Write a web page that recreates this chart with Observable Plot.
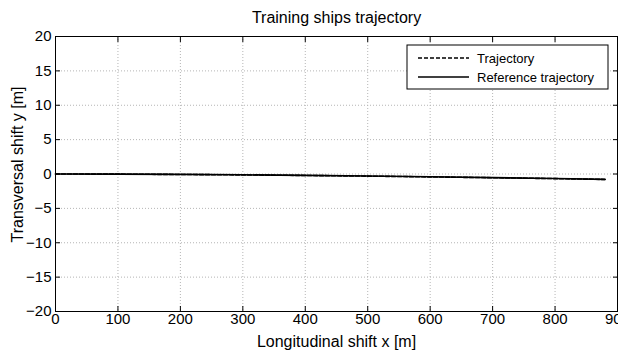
<!DOCTYPE html>
<html>
<head>
<meta charset="utf-8">
<script src="https://cdn.jsdelivr.net/npm/d3@7"></script>
<script src="https://cdn.jsdelivr.net/npm/@observablehq/plot@0.6"></script>
<style>
  html, body { margin: 0; padding: 0; background: #fff; }
  #chart svg { display: block; }
</style>
</head>
<body>
<div id="chart"></div>
<script>
// Longitudinal positions along the run [m]
const xPos = [0, 100, 200, 300, 400, 500, 600, 700, 800, 880];
// Planned (reference) lateral offset [m]
const refY = [0, -0.02, -0.06, -0.12, -0.2, -0.3, -0.41, -0.53, -0.66, -0.78];
// Sailed trajectory lateral offset [m]
const trajY = [0, -0.02, -0.07, -0.13, -0.21, -0.31, -0.42, -0.54, -0.67, -0.79];

const xTicks = [0, 100, 200, 300, 400, 500, 600, 700, 800, 900];
const yTicks = [-20, -15, -10, -5, 0, 5, 10, 15, 20];
const seriesNames = ["Trajectory", "Reference trajectory"];

const refData = xPos.map((x, i) => ({x, y: refY[i]}));
const trajData = xPos.map((x, i) => ({x, y: trajY[i]}));

const font = "Arial, 'Liberation Sans', Helvetica, sans-serif";
const gridInner = xTicks.slice(1, -1);
const gridInnerY = yTicks.slice(1, -1);

const chart = Plot.plot({
  width: 618,
  height: 351,
  marginLeft: 55,
  marginRight: 1,
  marginTop: 36,
  marginBottom: 40,
  style: {fontFamily: font, fontSize: "15px", color: "#000", background: "#fff"},
  x: {domain: [0, 900], ticks: xTicks},
  y: {domain: [-20, 20], ticks: yTicks},
  marks: [
    // dotted grid
    Plot.ruleX(gridInner, {stroke: "#b5b5b5", strokeWidth: 1, strokeDasharray: "1,2"}),
    Plot.ruleY(gridInnerY, {stroke: "#b5b5b5", strokeWidth: 1, strokeDasharray: "1,2"}),
    // tick labels
    Plot.axisX({ticks: xTicks, tickSize: 0, tickPadding: 2, fontSize: 15, label: null}),
    Plot.axisY({ticks: yTicks, tickSize: 0, tickPadding: 4, fontSize: 15, label: null}),
    // inward tick marks on all four sides
    Plot.axisX({ticks: xTicks, anchor: "bottom", tickSize: -5, label: null, text: null}),
    Plot.axisX({ticks: xTicks, anchor: "top", tickSize: -5, label: null, text: null}),
    Plot.axisY({ticks: yTicks, anchor: "left", tickSize: -5, label: null, text: null}),
    Plot.axisY({ticks: yTicks, anchor: "right", tickSize: -5, label: null, text: null}),
    // trajectories
    Plot.line(refData, {x: "x", y: "y", stroke: "#000", strokeWidth: 1.6}),
    Plot.line(trajData, {x: "x", y: "y", stroke: "#000", strokeWidth: 1.6, strokeDasharray: "4,2"}),
    Plot.frame({stroke: "#000", strokeWidth: 1}),
    // title and axis labels
    Plot.text(["Training ships trajectory"], {frameAnchor: "top", dy: -19, fontSize: 16, lineAnchor: "middle"}),
    Plot.text(["Longitudinal shift x [m]"], {frameAnchor: "bottom", dy: 30, fontSize: 16, lineAnchor: "middle"}),
    Plot.text(["Transversal shift y [m]"], {frameAnchor: "left", dx: -38, dy: -9.5, rotate: -90, fontSize: 16, lineAnchor: "middle", textAnchor: "middle"})
  ]
});

// legend box in the upper-right corner of the axes
const svg = d3.select(chart);
const frameRight = 617, frameTop = 36;
const lg = svg.append("g").attr("font-family", font).attr("font-size", 13).attr("text-anchor", "start");
const boxW = 201, boxH = 44;
const bx = frameRight - 9 - boxW, by = frameTop + 9;
lg.append("rect").attr("x", bx).attr("y", by).attr("width", boxW).attr("height", boxH)
  .attr("fill", "#fff").attr("stroke", "#000").attr("stroke-width", 1);
seriesNames.forEach((name, i) => {
  const cy = by + 13 + i * 19;
  lg.append("line").attr("x1", bx + 11).attr("x2", bx + 62).attr("y1", cy).attr("y2", cy)
    .attr("stroke", "#000").attr("stroke-width", 1.6)
    .attr("stroke-dasharray", i === 0 ? "4,2" : null);
  lg.append("text").attr("x", bx + 70).attr("y", cy).attr("dy", "0.35em").text(name);
});

document.getElementById("chart").appendChild(chart);
</script>
</body>
</html>
